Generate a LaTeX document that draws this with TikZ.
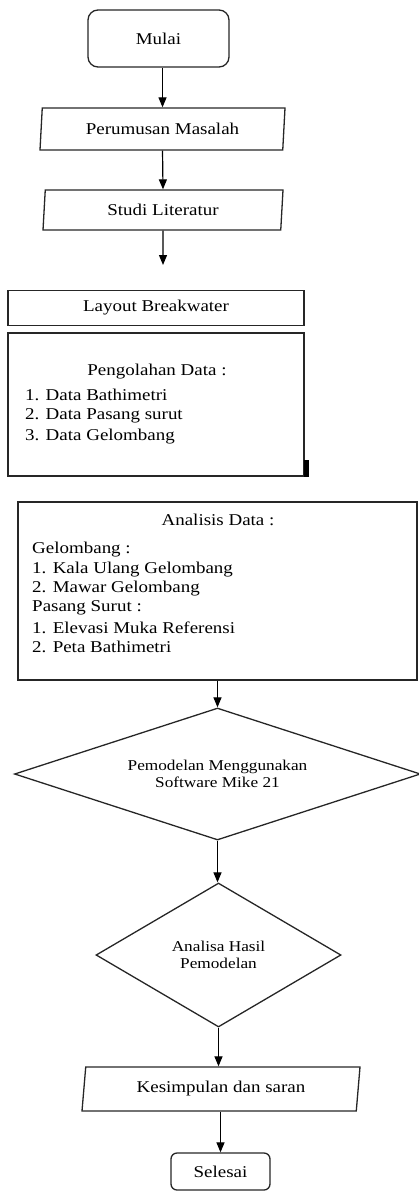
\documentclass[tikz,border=0pt]{standalone}
\usepackage{fontspec}
\setmainfont{Liberation Serif}[FakeStretch=1.15]
\usetikzlibrary{arrows.meta,shapes.geometric}

\begin{document}
\begin{tikzpicture}[x=1pt, y=-1pt,
  font=\fontsize{16.5}{20}\selectfont,
  term/.style={rectangle, draw=black!85, line width=1.3pt, inner sep=0pt},
  io/.style={trapezium, trapezium left angle=#1, trapezium right angle=180-#1,
             trapezium stretches body, draw=black!85, line width=1.3pt, inner sep=0pt},
  proc/.style={rectangle, draw=black!85, line width=1.3pt, inner sep=0pt},
  dec/.style={diamond, draw=black!85, line width=1.3pt, inner sep=0pt,
              align=center, font=\fontsize{15}{17}\selectfont},
  ar/.style={-{Triangle[length=10pt, width=8pt]}, line width=1.2pt}]

\useasboundingbox (0,0) rectangle (418,1191);

% ---- start and inputs ------------------------------------------------
\node[term, rounded corners=10pt, minimum width=141, minimum height=57]
     (mulai) at (158.5,38.5) {Mulai};
\node[io=79, minimum width=245, minimum height=42] (rm) at (162.5,129) {Perumusan Masalah};
\node[io=79, minimum width=240, minimum height=40] (sl) at (163,210) {Studi Literatur};
\coordinate (slend) at (163,265);

\draw[ar] (rm.north |- mulai.south) -- (rm.north);
\draw[ar] (rm.south) -- (sl.north);
\draw[ar] (sl.south) -- (slend);

% ---- layout and data processing --------------------------------------
\node[proc, minimum width=296, minimum height=35] (lb) at (156,308) {Layout Breakwater};
\node[proc, minimum width=296, minimum height=143] (pg) at (156,404.5) {};
\node (pgh) at (157,372) {Pengolahan Data :};
\foreach \t [count=\i from 0] in {1. Data Bathimetri, 2. Data Pasang surut, 3. Data Gelombang}
  \node[anchor=west, inner sep=0pt] (pg\i) at (25,395+21*\i) {\t};
\draw[line width=5pt] ([xshift=2pt]pg.south east) -- ([xshift=2pt, yshift=17pt]pg.south east);

% ---- analysis --------------------------------------------------------
\node[proc, minimum width=399, minimum height=178] (ana) at (217.5,591) {};
\node (anh) at (218,520) {Analisis Data :};
\foreach \t [count=\i from 0] in {Gelombang :, 1. Kala Ulang Gelombang, 2. Mawar Gelombang,
    Pasang Surut :, 1. Elevasi Muka Referensi, 2. Peta Bathimetri}
  \node[anchor=west, inner sep=0pt] (an\i) at (32,550+19.4*\i) {\t};

% ---- modelling -------------------------------------------------------
\node[dec, aspect=3, minimum width=406, minimum height=132] (mod) at (217.5,774)
     {Pemodelan Menggunakan\\Software Mike 21};
\node[dec, aspect=1.7, minimum width=245, minimum height=144] (hasil) at (218.5,955)
     {Analisa Hasil\\Pemodelan};

\draw[ar] (ana.south -| mod.north) -- (mod.north);
\draw[ar] (mod.south) -- (mod.south |- hasil.north);

% ---- conclusion ------------------------------------------------------
\node[io=76, minimum width=278, minimum height=44] (ks) at (221,1089) {Kesimpulan dan saran};
\node[term, rounded corners=6pt, minimum width=99, minimum height=37]
     (sel) at (220.5,1171.5) {Selesai};

\draw[ar] (hasil.south) -- (hasil.south |- ks.north);
\draw[ar] (sel.north |- ks.south) -- (sel.north);
\end{tikzpicture}
\end{document}
